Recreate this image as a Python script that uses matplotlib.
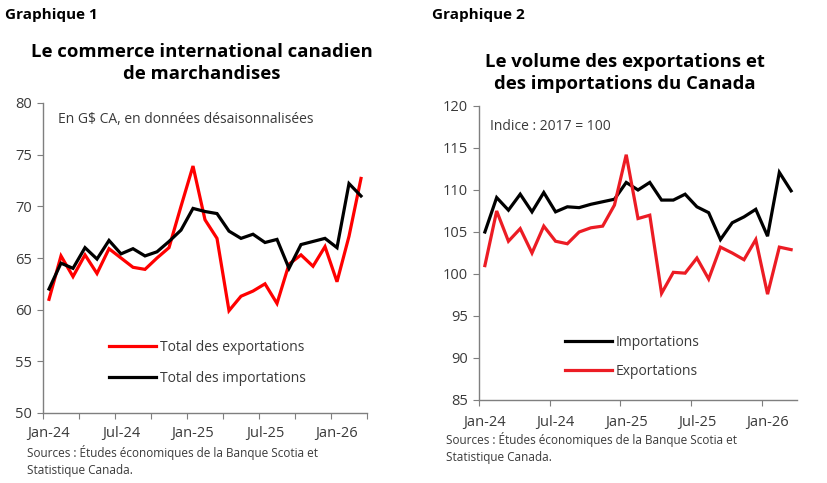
import matplotlib.pyplot as plt
from matplotlib.lines import Line2D

plt.rcParams['font.family'] = ['Open Sans', 'DejaVu Sans']

# Monthly data, Jan-24 to Mar-26
months = ['Jan-24', 'Feb-24', 'Mar-24', 'Apr-24', 'May-24', 'Jun-24', 'Jul-24', 'Aug-24', 'Sep-24',
          'Oct-24', 'Nov-24', 'Dec-24', 'Jan-25', 'Feb-25', 'Mar-25', 'Apr-25', 'May-25', 'Jun-25',
          'Jul-25', 'Aug-25', 'Sep-25', 'Oct-25', 'Nov-25', 'Dec-25', 'Jan-26', 'Feb-26', 'Mar-26']

# Graphique 1 : G$ CA
exports_val = [61.0, 65.2, 63.2, 65.3, 63.5, 65.9, 65.0, 64.1, 63.9, 65.0, 66.0, 70.0, 73.9, 68.7,
               66.9, 59.9, 61.3, 61.8, 62.5, 60.6, 64.4, 65.3, 64.2, 66.1, 62.7, 67.1, 72.7]
imports_val = [62.0, 64.5, 64.0, 66.0, 64.9, 66.7, 65.4, 65.9, 65.2, 65.6, 66.6, 67.7, 69.8, 69.5,
               69.3, 67.6, 66.9, 67.3, 66.5, 66.8, 64.0, 66.3, 66.6, 66.9, 66.0, 72.2, 71.0]

# Graphique 2 : indice 2017 = 100
imports_vol = [105.0, 109.1, 107.6, 109.5, 107.4, 109.7, 107.4, 108.0, 107.9, 108.3, 108.6, 108.9,
               110.9, 110.0, 110.9, 108.8, 108.8, 109.5, 108.0, 107.3, 104.1, 106.1, 106.8, 107.7,
               104.5, 112.1, 109.9]
exports_vol = [101.0, 107.5, 103.9, 105.4, 102.5, 105.7, 103.9, 103.6, 105.0, 105.5, 105.7, 108.2,
               114.2, 106.6, 107.0, 97.7, 100.2, 100.1, 101.9, 99.4, 103.2, 102.5, 101.7, 104.1,
               97.6, 103.2, 102.9]

x = list(range(len(months)))
label_pos = [0, 6, 12, 18, 24]
label_txt = [months[i] for i in label_pos]

fig = plt.figure(figsize=(8.28, 4.83), dpi=100)
fig.patch.set_facecolor('white')

txt_col = '#3a3a3a'
spine_col = '#7f7f7f'


def style_axis(ax, major_step, ylim, ystep, xpad):
    ax.set_xlim(-0.5, len(months) - 0.5)
    ax.set_ylim(*ylim)
    ax.set_yticks(range(ylim[0], ylim[1] + 1, ystep))
    for s in ['top', 'right']:
        ax.spines[s].set_visible(False)
    for s in ['left', 'bottom']:
        ax.spines[s].set_color(spine_col)
        ax.spines[s].set_linewidth(1.0)
    ax.set_xticks([i - 0.5 for i in range(0, len(months) + 1, major_step)])
    ax.set_xticklabels([])
    ax.set_xticks(label_pos, minor=True)
    ax.set_xticklabels(label_txt, minor=True)
    ax.tick_params(axis='x', which='major', direction='out', length=4, color=spine_col)
    ax.tick_params(axis='x', which='minor', length=0, pad=xpad, labelsize=10.5, labelcolor=txt_col)
    ax.tick_params(axis='y', direction='out', length=4, color=spine_col, labelsize=10.5,
                   labelcolor=txt_col, pad=4)


# ---- Graphique 1 ----
ax1 = fig.add_axes([43 / 828, 70 / 483, 324 / 828, 310 / 483])
ax1.plot(x, exports_val, color='#FF0000', lw=2.3, solid_joinstyle='miter')
ax1.plot(x, imports_val, color='#000000', lw=2.3, solid_joinstyle='miter')
style_axis(ax1, 3, (50, 80), 5, 9)
ax1.text(0.045, 0.97, 'En G$ CA, en données désaisonnalisées', transform=ax1.transAxes,
         fontsize=10, color=txt_col, va='top')
h1 = [Line2D([], [], color='#FF0000', lw=2.3), Line2D([], [], color='#000000', lw=2.3)]
ax1.legend(h1, ['Total des exportations', 'Total des importations'], frameon=False,
           loc='upper left', bbox_to_anchor=(0.165, 0.275), fontsize=10, handlelength=3.4,
           labelspacing=1.15, handletextpad=0.3, labelcolor=txt_col)

# ---- Graphique 2 ----
ax2 = fig.add_axes([479 / 828, 83 / 483, 318 / 828, 294 / 483])
ax2.plot(x, imports_vol, color='#000000', lw=2.3, solid_joinstyle='miter')
ax2.plot(x, exports_vol, color='#EC1C24', lw=2.3, solid_joinstyle='miter')
style_axis(ax2, 6, (85, 120), 5, 11)
ax2.text(0.035, 0.955, 'Indice : 2017 = 100', transform=ax2.transAxes,
         fontsize=10, color=txt_col, va='top')
h2 = [Line2D([], [], color='#000000', lw=2.3), Line2D([], [], color='#EC1C24', lw=2.3)]
ax2.legend(h2, ['Importations', 'Exportations'], frameon=False,
           loc='upper left', bbox_to_anchor=(0.23, 0.265), fontsize=10, handlelength=3.4,
           labelspacing=1.05, handletextpad=0.3, labelcolor=txt_col)

# ---- Titles and notes ----
fig.text(5 / 828, 1 - 15 / 483, 'Graphique 1', fontsize=11, fontweight='bold', va='center')
fig.text(432 / 828, 1 - 15 / 483, 'Graphique 2', fontsize=11, fontweight='bold', va='center')
fig.text(202 / 828, 1 - 63 / 483, 'Le commerce international canadien\nde marchandises',
         fontsize=13.3, fontweight='bold', ha='center', va='center', linespacing=1.3)
fig.text(625 / 828, 1 - 73 / 483, 'Le volume des exportations et\ndes importations du Canada',
         fontsize=13.3, fontweight='bold', ha='center', va='center', linespacing=1.3)
fig.text(27 / 828, 1 - 461 / 483, 'Sources : Études économiques de la Banque Scotia et\nStatistique Canada.',
         fontsize=8.5, color=txt_col, va='center', linespacing=1.35)
fig.text(446 / 828, 1 - 448 / 483, 'Sources : Études économiques de la Banque Scotia et\nStatistique Canada.',
         fontsize=8.5, color=txt_col, va='center', linespacing=1.35)

fig.savefig('out.png', dpi=100, facecolor='white')
